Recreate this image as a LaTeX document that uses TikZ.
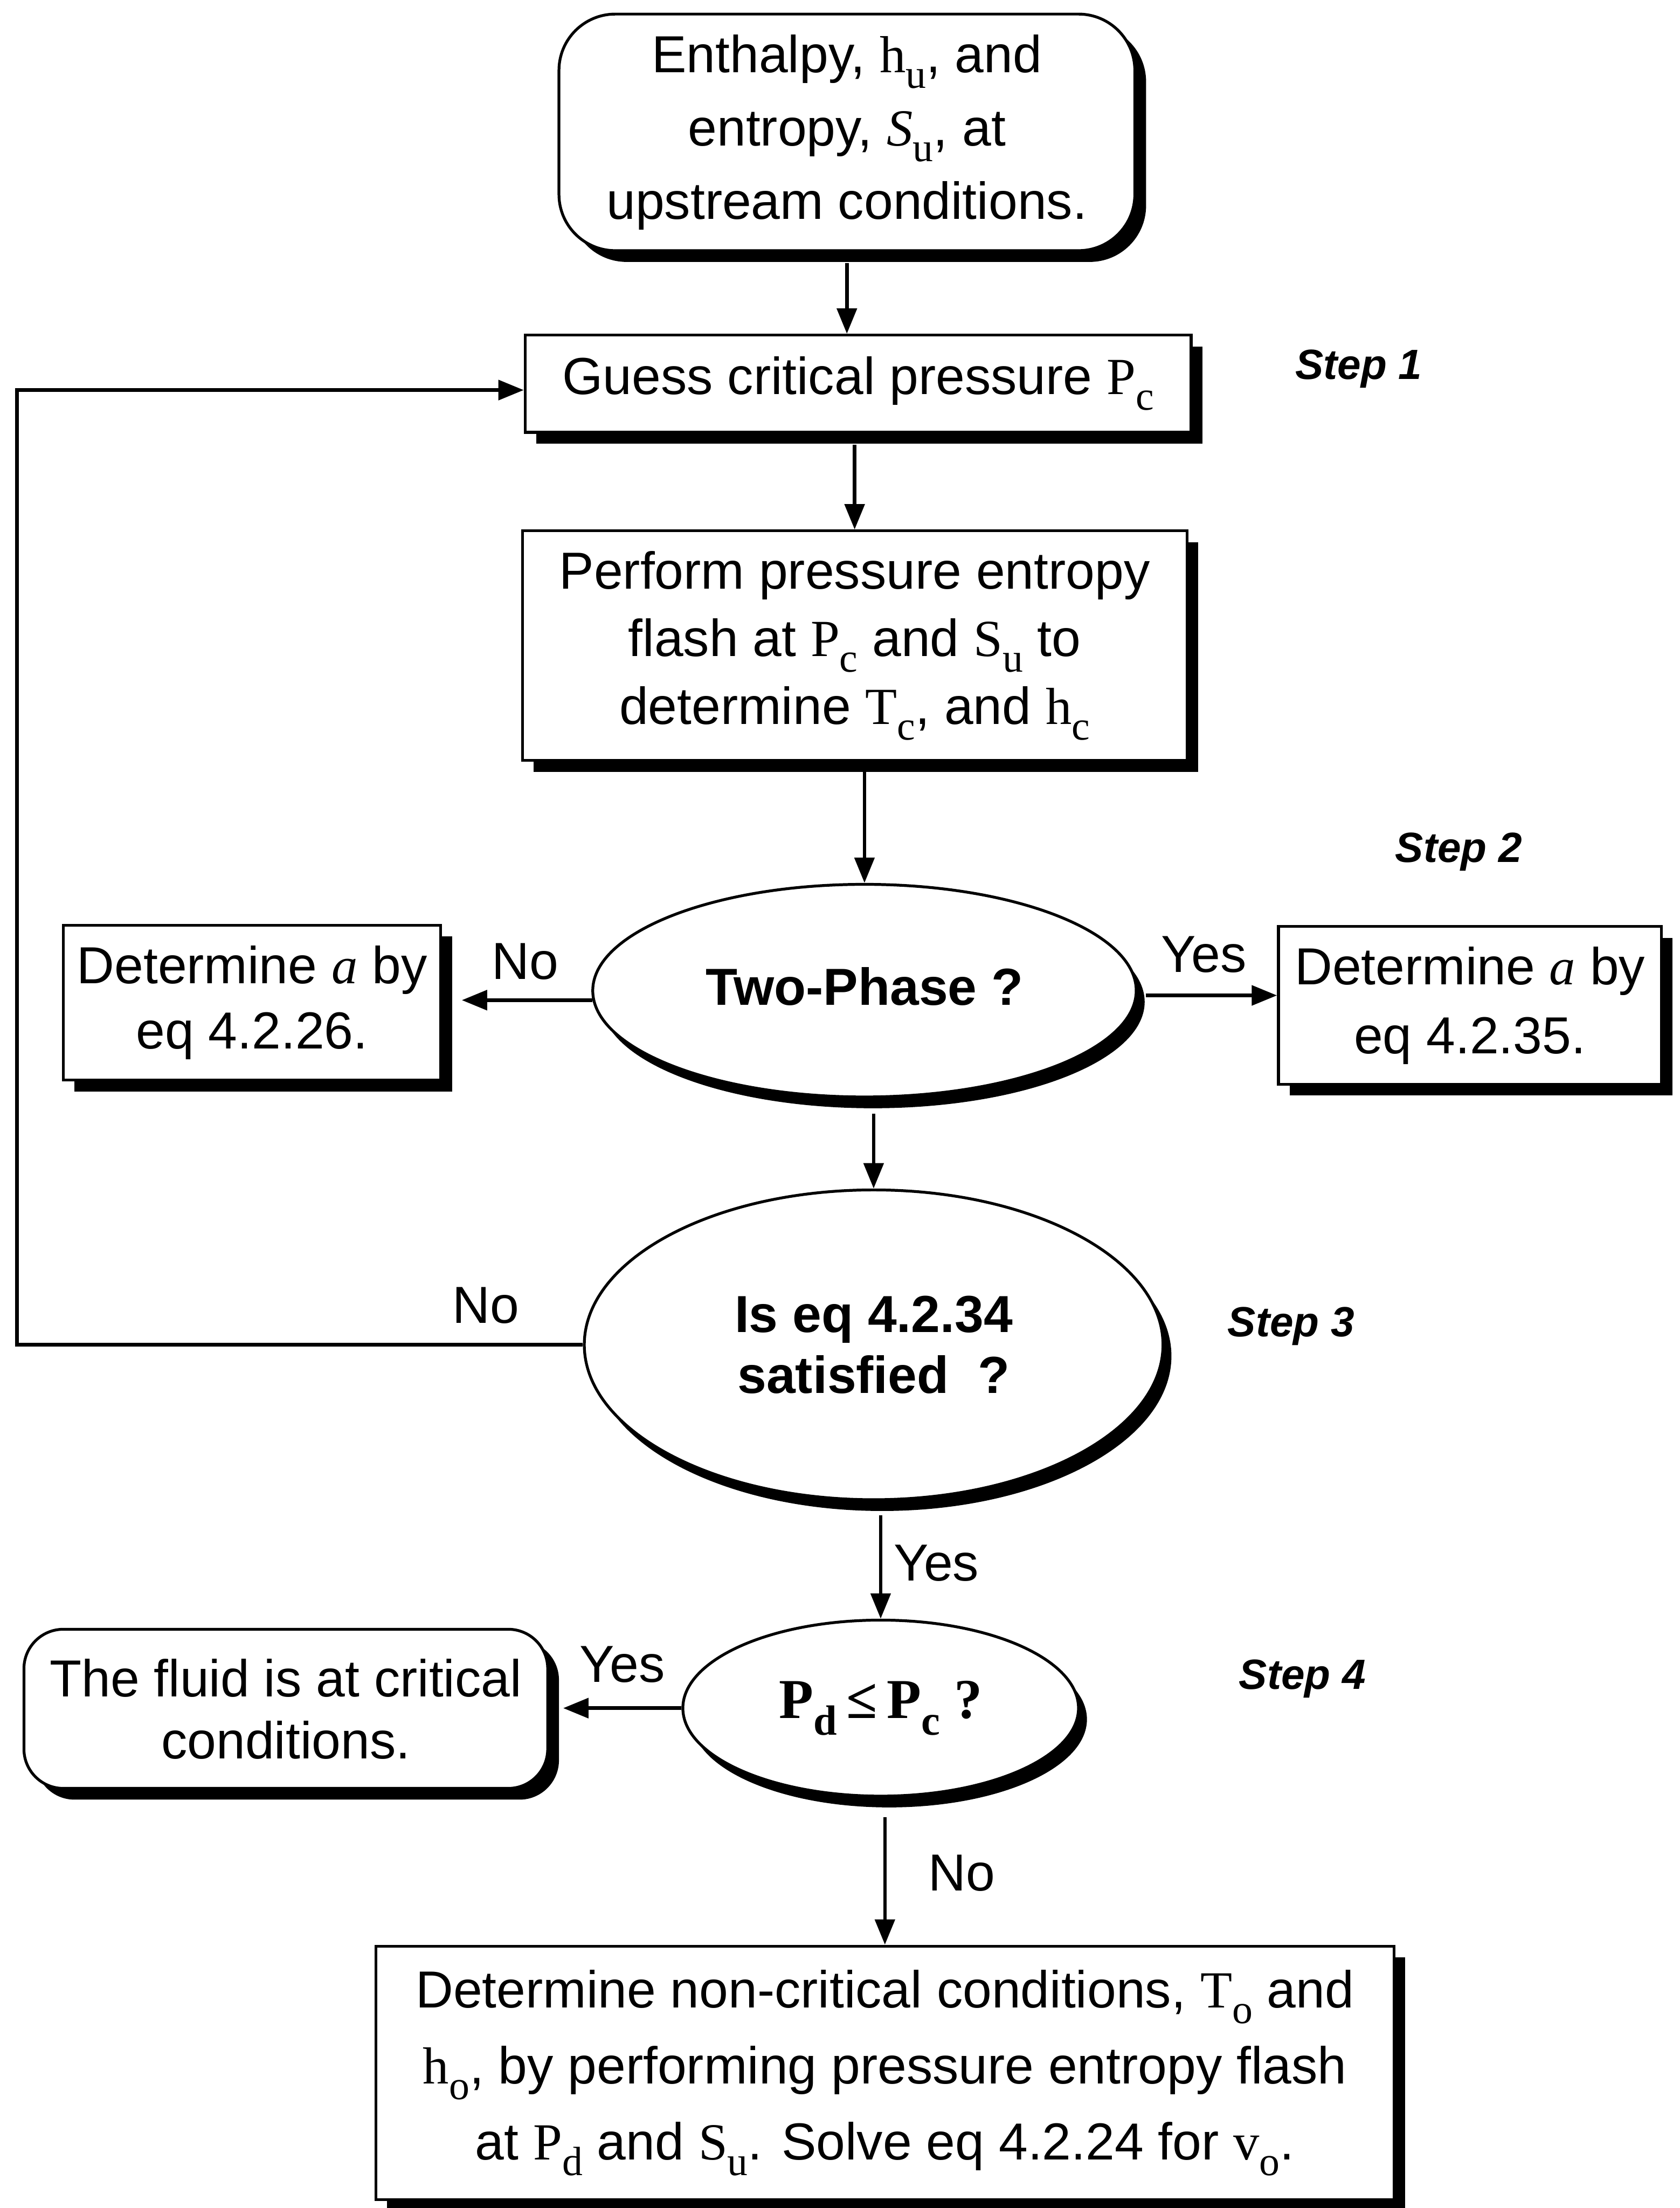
\documentclass[tikz,border=0pt]{standalone}
\usepackage{fontspec}
\setmainfont{Liberation Sans}
\newfontfamily\sr{Liberation Serif}
\usetikzlibrary{arrows.meta,shapes.geometric,shadows,calc}
\newcommand\sbx[2]{{\sr #1}\raisebox{-0.3em}{\fontsize{29}{29}\selectfont\sr #2}}
\newcommand\fs[1]{\fontsize{37}{#1}\selectfont}
\begin{document}
\begin{tikzpicture}[x=1pt,y=-1pt,
  every node/.style={font=\fs{50}},
  shd/.style={drop shadow={shadow xshift=8pt, shadow yshift=-8pt, fill=black, opacity=1}},
  box/.style={draw, line width=2pt, fill=white, align=center, inner sep=0pt, shd},
  ell/.style={ellipse, draw, line width=2pt, fill=white, align=center, inner sep=0pt,
     drop shadow={shadow xshift=6pt, shadow yshift=-8pt, fill=black, opacity=1}},
  arr/.style={line width=2.5pt, -{Triangle[length=18pt,width=14pt]}},
  lbl/.style={font=\fs{44}},
  steplbl/.style={font=\fontsize{30}{36}\selectfont\bfseries\itshape}
]
\useasboundingbox (0,0) rectangle (1193,1568);

\node[box, rounded corners=40pt, minimum width=409pt, minimum height=168pt, font=\fs{52}] (top) at (601.5,94)
  {\raisebox{3pt}{\parbox{400pt}{\centering Enthalpy, \sbx{h}{u}, and\\ entropy, \sbx{\itshape S}{u}, at\\ upstream conditions.}}};

\node[box, minimum width=473pt, minimum height=69pt] (gs) at (609.5,272.5)
  {\raisebox{6pt}{Guess critical pressure \sbx{P}{c}}};

\node[box, minimum width=472pt, minimum height=163pt, font=\fs{48}] (pf) at (607,458.5)
  {Perform pressure entropy\\ flash at \sbx{P}{c} and \sbx{S}{u} to\\ determine \sbx{T}{c}, and \sbx{h}{c}};

\node[ell, minimum width=386pt, minimum height=151pt] (tp) at (614,703.5)
  {\raisebox{6pt}{\bfseries Two-Phase ?}};

\node[box, minimum width=268pt, minimum height=110pt, font=\fs{46}] (lb) at (179,712)
  {Determine {\sr\itshape a} by\\ eq 4.2.26.};

\node[box, minimum width=272pt, minimum height=112pt, font=\fs{49}] (rb) at (1044,714)
  {Determine {\sr\itshape a} by\\ eq 4.2.35.};

\node[ell, minimum width=411pt, minimum height=220pt, font=\fs{43}\bfseries] (iq) at (620.5,955)
  {Is eq 4.2.34\\ satisfied\ \ ?};

\node[ell, minimum width=281pt, minimum height=125pt] (pd) at (625.5,1213)
  {\fontsize{40}{44}\selectfont\sr\bfseries P\raisebox{-0.3em}{\fontsize{30}{30}\selectfont d}\,≤\,P\raisebox{-0.3em}{\fontsize{30}{30}\selectfont c}\ ?};

\node[box, rounded corners=28pt, minimum width=372pt, minimum height=113pt, font=\fs{44}] (fl) at (203,1213.5)
  {\raisebox{4pt}{\parbox{370pt}{\centering The fluid is at critical\\ conditions.}}};

\node[box, minimum width=723pt, minimum height=180pt, font=\fs{54}] (bt) at (628.5,1472)
  {\raisebox{5pt}{\parbox{720pt}{\centering Determine non-critical conditions, \sbx{T}{o} and\\ \sbx{h}{o}, by performing pressure entropy flash\\ at \sbx{P}{d} and \sbx{S}{u}. Solve eq 4.2.24 for \sbx{v}{o}.}}};

\node[steplbl] (s1) at (965,262) {Step 1};
\node[steplbl] (s2) at (1036,605) {Step 2};
\node[steplbl] (s3) at (917,942) {Step 3};
\node[steplbl] (s4) at (925,1192) {Step 4};

\node[lbl] (n1) at (373,683) {No};
\node[lbl] (y1) at (855,678) {Yes};
\node[lbl] (n2) at (345,927) {No};
\node[lbl] (y2) at (665,1110) {Yes};
\node[lbl] (y3) at (442,1182) {Yes};
\node[lbl] (n3) at (683,1330) {No};

\coordinate (lp) at (12,600);

\draw[arr, shorten <=8pt] (top.south) -- (top.south |- gs.north);
\draw[arr, shorten <=8pt] (gs.south -| pf.north) -- (pf.north);
\draw[arr, shorten <=4pt] (tp.north |- pf.south) -- (tp.north);
\draw[arr, shorten <=11pt] (iq.north |- tp.south) -- (iq.north);
\draw[arr, shorten <=10pt] (pd.north |- iq.south) -- (pd.north);
\draw[arr, shorten <=14pt] (bt.north |- pd.south) -- (bt.north);
\draw[arr, shorten >=14pt] (tp.182.5) -- (tp.182.5 -| lb.east);
\draw[arr, shorten <=6pt] (tp.359) -- (tp.359 -| rb.west);
\draw[arr, shorten >=10pt] (pd.west) -- (pd.west -| fl.east);
\draw[arr] (iq.west) -- (iq.west -| lp) |- ([yshift=-4.5pt]gs.west);
\end{tikzpicture}
\end{document}
